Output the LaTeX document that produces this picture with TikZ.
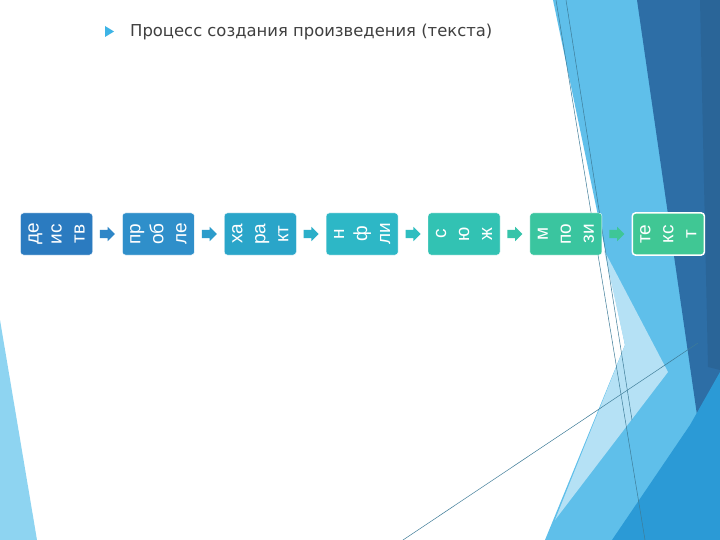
\documentclass[tikz,border=0pt]{standalone}
\usepackage{fontspec}
\setmainfont{DejaVu Sans}
\newfontfamily\boxfont{Liberation Sans}
\usetikzlibrary{positioning,shapes.arrows,shapes.geometric}
\definecolor{stepA}{HTML}{2B7BC0}
\definecolor{stepB}{HTML}{2F8FCA}
\definecolor{stepC}{HTML}{2AA5C9}
\definecolor{stepD}{HTML}{2DB7C6}
\definecolor{stepE}{HTML}{32C2B3}
\definecolor{stepF}{HTML}{3AC59F}
\definecolor{stepG}{HTML}{40C794}
\definecolor{arrA}{HTML}{2E86C7}
\definecolor{arrB}{HTML}{2C9CCB}
\definecolor{arrC}{HTML}{2BAFC9}
\definecolor{arrD}{HTML}{2FBEC0}
\definecolor{arrE}{HTML}{36C4AA}
\definecolor{arrF}{HTML}{3EC697}
\definecolor{facetLight}{HTML}{5FBFEA}
\definecolor{facetPale}{HTML}{B5E1F5}
\definecolor{facetDark}{HTML}{2D6EA6}
\definecolor{facetDeep}{HTML}{2A6598}
\definecolor{facetMid}{HTML}{2B9AD6}
\definecolor{facetSky}{HTML}{8ED4F1}
\definecolor{bulletblue}{HTML}{3DB4E6}
\definecolor{titlegray}{HTML}{404040}
\tikzset{
  stepbox/.style={
    rectangle,
    rounded corners=3pt,
    draw=white, thin,
    minimum width=72pt,
    minimum height=42pt,
    inner sep=0pt},
  steptext/.style={rotate=90, text=white, align=center, inner sep=0pt,
    font=\boxfont\fontsize{19pt}{23pt}\selectfont},
  steparrow/.style={single arrow, single arrow head extend=3pt,
    single arrow head indent=0pt,
    minimum height=15pt, inner xsep=0pt, inner ysep=4pt},
  thinline/.style={draw=black!35!facetLight, line width=0.5pt},
}

\begin{document}
\begin{tikzpicture}[x=1pt,y=-1pt]
    \useasboundingbox (0,0) rectangle (720,540);
    \fill[white] (0,0) rectangle (720,540);

    % facets on the right and at the left
    \fill[facetLight] (553,0) -- (720,0) -- (720,540) -- (545,540) -- (625,345) -- cycle;
    \fill[facetPale] (604,250) -- (668,372) -- (555,520) -- (625,345) -- cycle;
    \fill[facetDark] (637,0) -- (720,0) -- (720,420) -- (697,415) -- cycle;
    \fill[facetDeep] (700,0) -- (720,0) -- (720,370) -- (708,367) -- cycle;
    \fill[facetMid] (720,372) -- (720,540) -- (612,540) -- (690,425) -- cycle;
    \fill[facetSky] (0,320) -- (37,540) -- (0,540) -- cycle;
    \coordinate (lineA) at (556,0);
    \coordinate (lineB) at (645,540);
    \coordinate (lineC) at (566,0);
    \coordinate (lineD) at (632,420);
    \coordinate (lineE) at (403,540);
    \coordinate (lineF) at (698,343);
    \path[thinline] (lineA) -- (lineB);
    \path[thinline] (lineC) -- (lineD);
    \path[thinline] (lineE) -- (lineF);

    % title
    \fill[bulletblue] (105,26) -- (114,31.5) -- (105,37) -- cycle;
    \node[anchor=base west, inner sep=0pt, text=titlegray, font=\fontsize{16.4pt}{19pt}\selectfont] (title) at (130,37) {Процесс создания произведения (текста)};

    % steps
    \node[stepbox, fill=stepA] (item1) at (56.5,234) {};
    \node[steparrow, fill=arrA, right=7pt of item1] (ar1) {};
    \node[stepbox, fill=stepB, right=7pt of ar1] (item2) {};
    \node[steparrow, fill=arrB, right=7pt of item2] (ar2) {};
    \node[stepbox, fill=stepC, right=7pt of ar2] (item3) {};
    \node[steparrow, fill=arrC, right=7pt of item3] (ar3) {};
    \node[stepbox, fill=stepD, right=7pt of ar3] (item4) {};
    \node[steparrow, fill=arrD, right=7pt of item4] (ar4) {};
    \node[stepbox, fill=stepE, right=7pt of ar4] (item5) {};
    \node[steparrow, fill=arrE, right=7pt of item5] (ar5) {};
    \node[stepbox, fill=stepF, right=7pt of ar5] (item6) {};
    \node[steparrow, fill=arrF, right=7pt of item6] (ar6) {};
    \node[stepbox, fill=stepG, line width=1.5pt, right=7pt of ar6] (item7) {};

    \node[steptext] (txt1) at (item1) {де\\ис\\тв};
    \node[steptext] (txt2) at (item2) {пр\\об\\ле};
    \node[steptext] (txt3) at (item3) {ха\\ра\\кт};
    \node[steptext] (txt4) at (item4) {н\\ф\\ли};
    \node[steptext] (txt5) at (item5) {с\\ю\\ж};
    \node[steptext] (txt6) at (item6) {м\\по\\зи};
    \node[steptext] (txt7) at (item7) {те\\кс\\т};
\end{tikzpicture}
\end{document}
